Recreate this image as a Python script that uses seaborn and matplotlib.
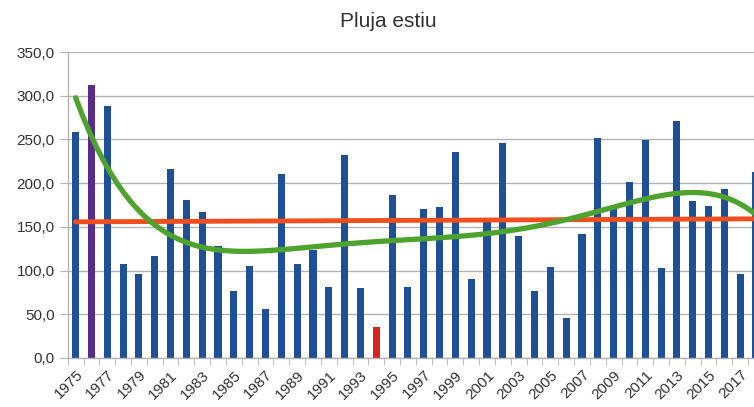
import numpy as np
import matplotlib
matplotlib.use("Agg")
import matplotlib.pyplot as plt
from matplotlib.ticker import FuncFormatter
from matplotlib.transforms import ScaledTranslation
import seaborn as sns

years = list(range(1975, 2019))
rain = [259, 312, 288, 108, 96, 117, 216, 181, 167, 128,
        77, 105, 56, 211, 107, 124, 81, 232, 80, 36,
        186, 81, 170, 173, 236, 90, 155, 246, 139, 77,
        104, 46, 142, 252, 170, 201, 249, 103, 271, 180,
        174, 193, 96, 213]
# max year purple, min year red
bar_colors = ['#1f4f97'] * len(years)
bar_colors[years.index(1976)] = '#5a2b87'
bar_colors[years.index(1994)] = '#d8231f'

sns.set_style("white")
plt.rcParams['font.family'] = ['Liberation Sans', 'DejaVu Sans']

fig = plt.figure(figsize=(7.54, 4.07), dpi=100)
ax = fig.add_axes([0.0898, 0.1204, 0.9102, 0.7518])

idx = np.arange(len(years))
sns.barplot(x=idx, y=rain, hue=idx, palette=bar_colors, legend=False,
            width=0.45, saturation=1, linewidth=0, ax=ax, zorder=2)

sns.regplot(x=idx, y=np.array(rain, dtype=float), order=1, scatter=False, ci=None,
            ax=ax, line_kws=dict(color='#f04e1e', lw=3.5, zorder=3))
sns.regplot(x=idx, y=np.array(rain, dtype=float), order=5, scatter=False, ci=None,
            ax=ax, line_kws=dict(color='#4ea22e', lw=3.8, zorder=4))

ax.set_yticks(np.arange(0, 351, 50))
ax.yaxis.set_major_formatter(FuncFormatter(lambda v, p: f"{v:.1f}".replace('.', ',')))
ax.grid(axis='y', color='#b3b3b3', lw=1, zorder=0)
ax.set_axisbelow(True)

ax.set_xticks(idx[::2])
ax.set_xticklabels([str(y) for y in years[::2]], rotation=45, ha='right', va='top',
                   rotation_mode='anchor')
for lab in ax.get_xticklabels():
    lab.set_transform(lab.get_transform() + ScaledTranslation(-8/72, 0, fig.dpi_scale_trans))
ax.set_xticks(np.arange(-0.5, len(years), 1), minor=True)
ax.tick_params(axis='x', which='major', length=0, pad=7, labelsize=11, labelcolor='#333333')
ax.tick_params(axis='x', which='minor', length=5, color='#b3b3b3', bottom=True)
ax.tick_params(axis='y', length=6, color='#b3b3b3', left=True, labelsize=11,
               labelcolor='#333333')
ax.set_xlabel('')
ax.set_ylabel('')

# limits last, set_xticks widens the view otherwise
ax.set_xlim(-0.5, 42.87)
ax.set_ylim(0, 350)

for s in ['top', 'right']:
    ax.spines[s].set_visible(False)
for s in ['left', 'bottom']:
    ax.spines[s].set_color('#b3b3b3')
    ax.spines[s].set_linewidth(1)

fig.suptitle('Pluja estiu', x=0.515, y=0.97, fontsize=15, color='#333333')

fig.savefig('out.png', dpi=100)
